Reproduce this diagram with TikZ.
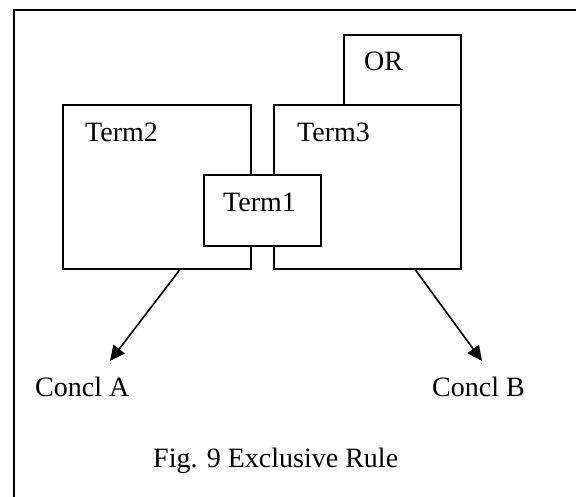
\documentclass[tikz,border=0pt]{standalone}
\usepackage{fontspec}
\setmainfont{Liberation Serif}
\usetikzlibrary{arrows.meta,calc}
\begin{document}
\begin{tikzpicture}[x=1pt,y=-1pt,
  box/.style={draw,line width=1.6pt,fill=white,inner sep=0pt,anchor=north west},
  lbl/.style={inner sep=0pt,anchor=base west,font=\fontsize{28}{32}\selectfont},
  arr/.style={line width=1.6pt,-{Triangle[length=15pt,width=14pt]}}]
\useasboundingbox (0,0) rectangle (576,497);
\draw[line width=2pt] (14,497) coordinate (fb) -- (14,10) coordinate (ftl) -- (576,10) coordinate (fr);
\node[box,minimum width=117pt,minimum height=70pt] (orb) at (343,34) {};
\node[box,minimum width=188pt,minimum height=164pt] (t2) at (62,104) {};
\node[box,minimum width=187pt,minimum height=164pt] (t3) at (273,104) {};
\node[box,minimum width=117pt,minimum height=71pt] (t1) at (203,174) {};
\node[lbl] (lor) at (364,71) {OR};
\node[lbl] (lt2) at (85,142) {Term2};
\node[lbl] (lt3) at (297,142) {Term3};
\node[lbl] (lt1) at (223,212) {Term1};
\node[lbl] (ca) at (35,396) {Concl A};
\node[lbl] (cb) at (432,396) {Concl B};
\node[lbl] (fig) at (153,467) {Fig. 9 Exclusive Rule};
\coordinate (ea) at (110,361);
\coordinate (eb) at (482,361);
\draw[arr] ($(t2.south west)!0.622!(t2.south east)$) -- (ea);
\draw[arr] ($(t3.south west)!0.754!(t3.south east)$) -- (eb);
\end{tikzpicture}
\end{document}
